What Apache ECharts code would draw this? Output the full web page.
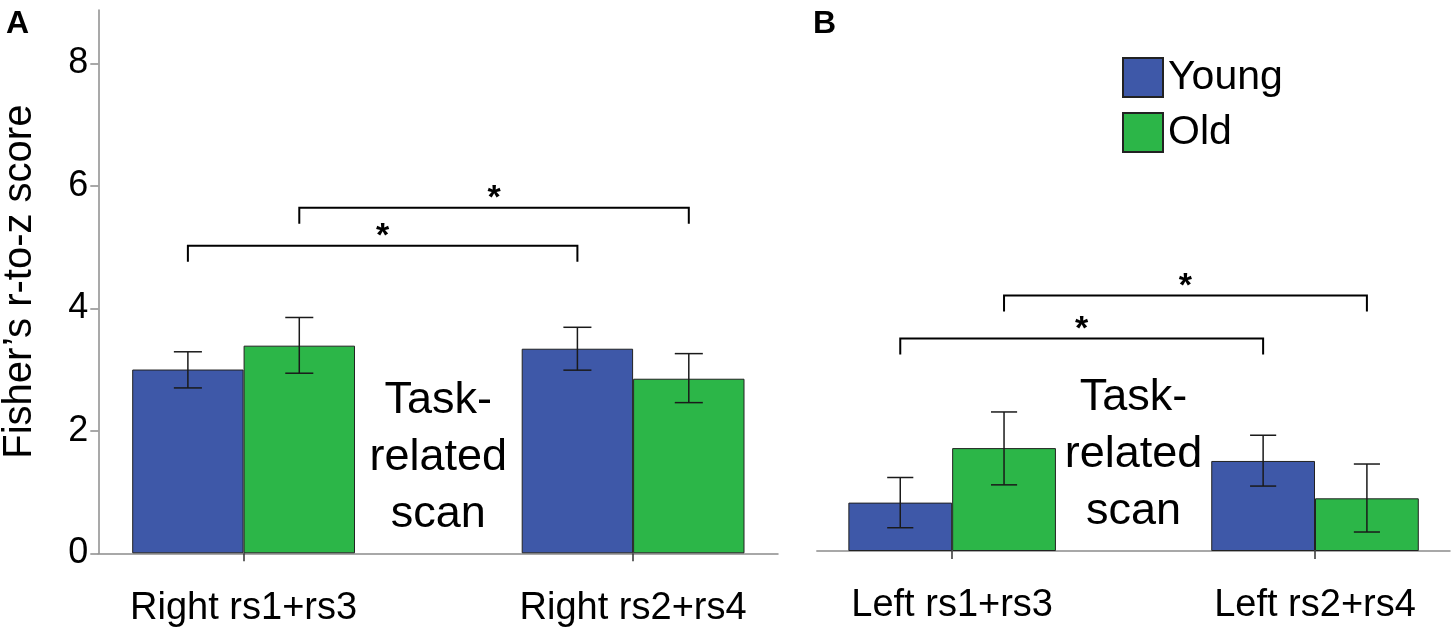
<!DOCTYPE html>
<html>
<head>
<meta charset="utf-8">
<title>Fisher r-to-z score</title>
<script src="https://cdn.jsdelivr.net/npm/echarts@6/dist/echarts.min.js"></script>
<style>
html,body{margin:0;padding:0;background:#fff;}
#main{width:1455px;height:633px;}
</style>
</head>
<body>
<div id="main"></div>
<script>
//类目
var catsA = ["Right rs1+rs3", "Right rs2+rs4"];
var catsB = ["Left rs1+rs3", "Left rs2+rs4"];
var groups = ["Young", "Old"];
//均值
var youngA = [3.00, 3.34];
var oldA = [3.39, 2.85];
var youngB = [0.79, 1.47];
var oldB = [1.68, 0.86];
//误差线 [下限, 上限]
var youngErrA = [[2.70, 3.29], [2.99, 3.69]];
var oldErrA = [[2.94, 3.85], [2.46, 3.26]];
var youngErrB = [[0.38, 1.20], [1.06, 1.89]];
var oldErrB = [[1.08, 2.27], [0.31, 1.42]];
//显著性括号高度 (Young, Old)
var bracketA = [5.02, 5.64];
var bracketB = [3.47, 4.17];
//y轴刻度
var yTicks = [0, 2, 4, 6, 8];
var yMax = 8.87;

var FONT = "Liberation Sans";
var BAR = 0.286;   //柱宽占类目间距比例
var CAP = 0.036;   //误差线帽半宽
var LEG = 16;      //括号竖线长度(px)
var X_MIN = -0.373, X_MAX = 1.372;
var TASK_Y = 1.57;

function groupOffset(g, band){
	return (g === 0 ? -BAR / 2 : BAR / 2) * band;
}

//误差线
function errRender(params, api){
	var cat = api.value(0), lo = api.value(1), hi = api.value(2), g = api.value(3);
	var band = api.size([1, 0])[0];
	var p0 = api.coord([cat, lo]), p1 = api.coord([cat, hi]);
	var x = p0[0] + groupOffset(g, band), cap = CAP * band;
	var st = {stroke: "#1a1a1a", lineWidth: 1.5};
	return {type: "group", children: [
		{type: "line", shape: {x1: x, y1: p0[1], x2: x, y2: p1[1]}, style: st},
		{type: "line", shape: {x1: x - cap, y1: p0[1], x2: x + cap, y2: p0[1]}, style: st},
		{type: "line", shape: {x1: x - cap, y1: p1[1], x2: x + cap, y2: p1[1]}, style: st}
	]};
}

//括号和星号
function bracketRender(params, api){
	var g = api.value(0), h = api.value(1);
	var band = api.size([1, 0])[0];
	var a = api.coord([0, h]), b = api.coord([1, h]);
	var x1 = a[0] + groupOffset(g, band), x2 = b[0] + groupOffset(g, band), y = a[1];
	return {type: "group", children: [
		{type: "polyline", shape: {points: [[x1, y + LEG], [x1, y], [x2, y], [x2, y + LEG]]},
			style: {stroke: "#000", lineWidth: 2, fill: null}},
		{type: "text", style: {text: "*", x: (x1 + x2) / 2, y: y - 9,
			align: "center", textAlign: "center", verticalAlign: "middle", textVerticalAlign: "middle",
			fontSize: 34, fontWeight: "bold", fontFamily: FONT, fill: "#000"}}
	]};
}

//Task-related scan 文字
function taskRender(params, api){
	var p = api.coord([api.value(0), api.value(1)]);
	return {type: "text", style: {text: "Task-\nrelated\nscan", x: p[0], y: p[1],
		align: "center", textAlign: "center", verticalAlign: "middle", textVerticalAlign: "middle",
		fontSize: 45, lineHeight: 57, fontFamily: FONT, fill: "#000"}};
}

function errData(errs, g){
	return errs.map(function(e, i){ return [i, e[0], e[1], g]; });
}

function xAxisOf(gi, cats){
	return {
		type: "value", gridIndex: gi, min: X_MIN, max: X_MAX,
		splitLine: {show: false},
		axisLine: {show: true, onZero: false, lineStyle: {color: "#8c8c8c", width: 1.5}},
		axisTick: {show: true, customValues: [0, 1], length: 8, lineStyle: {color: "#333", width: 1.5}},
		axisLabel: {show: true, customValues: [0, 1], margin: 36, fontSize: 38, color: "#000", fontFamily: FONT,
			formatter: function(v){ return cats[Math.round(v)]; }}
	};
}

function barSeries(name, gi, vals, color){
	return {
		type: "bar", name: name, xAxisIndex: gi, yAxisIndex: gi,
		data: vals.map(function(v, i){ return [i, v]; }),
		barWidth: (BAR * 100) + "%", barGap: "0%",
		itemStyle: {color: color, borderColor: "#222", borderWidth: 1},
		silent: true
	};
}

function customSeries(gi, render, data){
	return {type: "custom", xAxisIndex: gi, yAxisIndex: gi, renderItem: render, data: data, silent: true, z: 5};
}

var blue = "#3e58a8", green = "#2cb648";

var option = {
	animation: false,
	backgroundColor: "#fff",
	title: [
		{text: "A", left: 6, top: 8, padding: 0, textStyle: {fontSize: 32, fontWeight: "bold", fontFamily: FONT, color: "#000"}},
		{text: "B", left: 813, top: 8, padding: 0, textStyle: {fontSize: 32, fontWeight: "bold", fontFamily: FONT, color: "#000"}}
	],
	legend: {
		data: groups, orient: "vertical", left: 1122, top: 57, padding: 0,
		itemWidth: 40, itemHeight: 39, itemGap: 14, icon: "rect", selectedMode: false,
		textStyle: {fontSize: 41, color: "#000", fontFamily: FONT}
	},
	grid: [
		{left: 98.3, top: 10, width: 679.7, height: 543.3, outerBoundsMode: "none"},
		{left: 816.8, top: 7.7, width: 633.2, height: 543.3, outerBoundsMode: "none"}
	],
	xAxis: [xAxisOf(0, catsA), xAxisOf(1, catsB)],
	yAxis: [
		{
			type: "value", gridIndex: 0, min: 0, max: yMax,
			name: "Fisher’s r-to-z score", nameLocation: "middle", nameRotate: 90, nameGap: 58,
			nameTextStyle: {fontSize: 40, color: "#000", fontFamily: FONT},
			splitLine: {show: false},
			axisLine: {show: true, onZero: false, lineStyle: {color: "#8c8c8c", width: 1.5}},
			axisTick: {show: true, customValues: yTicks, length: 8, lineStyle: {color: "#8c8c8c", width: 1.5}},
			axisLabel: {show: true, customValues: yTicks, margin: 10, fontSize: 36, color: "#000", fontFamily: FONT}
		},
		{type: "value", gridIndex: 1, min: 0, max: yMax, show: false, splitLine: {show: false}}
	],
	series: [
		barSeries("Young", 0, youngA, blue),
		barSeries("Old", 0, oldA, green),
		barSeries("Young", 1, youngB, blue),
		barSeries("Old", 1, oldB, green),
		customSeries(0, errRender, errData(youngErrA, 0).concat(errData(oldErrA, 1))),
		customSeries(1, errRender, errData(youngErrB, 0).concat(errData(oldErrB, 1))),
		customSeries(0, bracketRender, bracketA.map(function(h, g){ return [g, h]; })),
		customSeries(1, bracketRender, bracketB.map(function(h, g){ return [g, h]; })),
		customSeries(0, taskRender, [[0.5, TASK_Y]]),
		customSeries(1, taskRender, [[0.5, TASK_Y]])
	]
};

var myChart = echarts.init(document.getElementById("main"));
myChart.setOption(option);
</script>
</body>
</html>
